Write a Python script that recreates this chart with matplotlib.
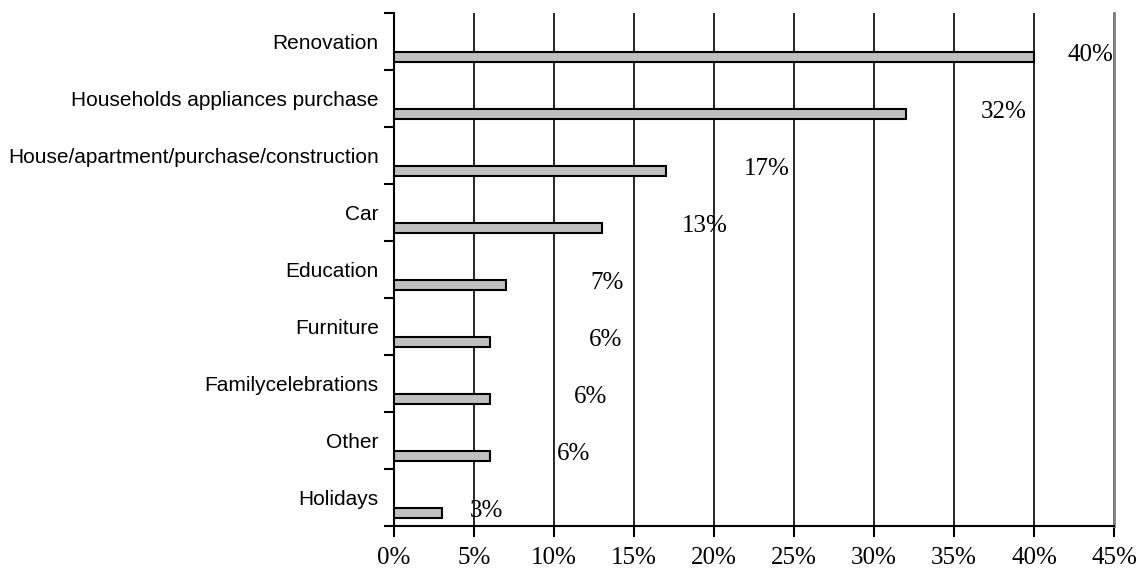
import numpy as np
import matplotlib.pyplot as plt
from matplotlib.ticker import FuncFormatter, MultipleLocator

categories = ['Renovation',
              'Households appliances purchase',
              'House/apartment/purchase/construction',
              'Car',
              'Education',
              'Furniture',
              'Familycelebrations',
              'Other',
              'Holidays']
values = [40, 32, 17, 13, 7, 6, 6, 6, 3]

# where the value labels sit (x in %), as in the original
label_x = [43.5, 38.1, 23.3, 19.4, 13.3, 13.2, 12.3, 11.2, 5.8]

fig = plt.figure(figsize=(11.41, 5.74), dpi=100)
ax = fig.add_axes([394/1141, 48/574, 720/1141, 513/574])

pos = np.arange(len(categories))
ax.barh(pos + 0.27, values, height=0.175, color='#c0c0c0',
        edgecolor='black', linewidth=1.5, zorder=3)

for i in range(len(values)):
    ax.text(label_x[i], pos[i] + 0.23, '{}%'.format(values[i]),
            ha='center', va='center', fontsize=18,
            family='Liberation Serif', zorder=4)

ax.set_xlim(0, 45)
ax.set_ylim(len(categories) - 0.5, -0.5)
ax.xaxis.set_major_locator(MultipleLocator(5))
ax.xaxis.set_major_formatter(FuncFormatter(lambda x, p: '{:.0f}%'.format(x)))
ax.grid(axis='x', color='black', linewidth=1.2, zorder=1)

ax.set_yticks(pos)
ax.set_yticklabels(categories, family='Liberation Sans', fontsize=15)
ax.set_yticks(np.arange(len(categories) + 1) - 0.5, minor=True)
ax.tick_params(axis='y', which='major', length=0, pad=11)
ax.tick_params(axis='y', which='minor', length=7, width=1.5, direction='out')
ax.tick_params(axis='x', length=8, width=1.5, direction='out', pad=7)
for lab in ax.get_xticklabels():
    lab.set_family('Liberation Serif')
    lab.set_fontsize(18)

ax.spines['top'].set_visible(False)
ax.spines['right'].set_color('#808080')
ax.spines['right'].set_linewidth(2)
ax.spines['left'].set_linewidth(1.5)
ax.spines['bottom'].set_linewidth(1.5)

fig.savefig('out.png', dpi=100)
